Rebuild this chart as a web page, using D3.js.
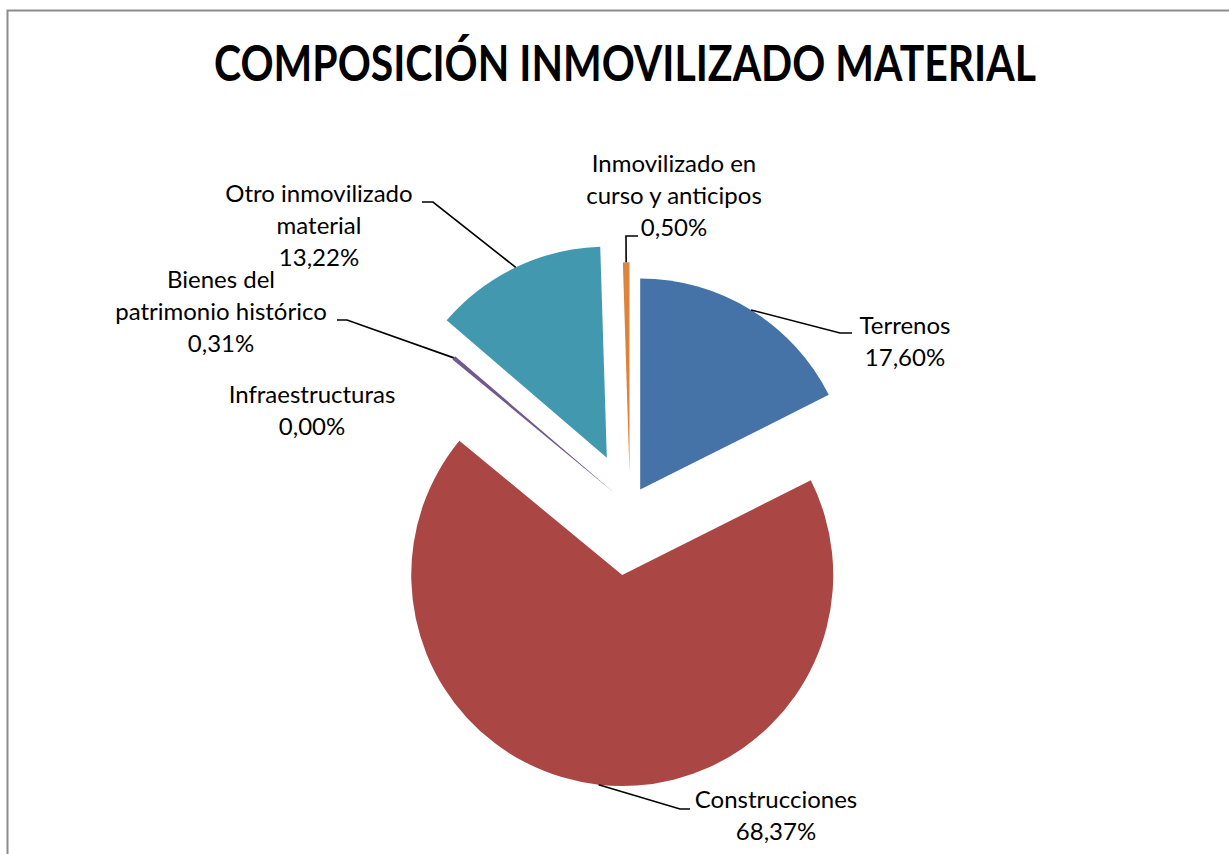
<!DOCTYPE html>
<meta charset="utf-8">
<script src="https://d3js.org/d3.v7.min.js"></script>
<style>
  body { margin: 0; background: #fff; }
  text { font-family: Lato, "Open Sans", sans-serif; fill: #000; }
</style>
<div id="chart"></div>
<script>
// data
const categories = ["Terrenos", "Construcciones", "Infraestructuras",
  "Bienes del patrimonio histórico", "Otro inmovilizado material",
  "Inmovilizado en curso y anticipos"];
const values = [17.60, 68.37, 0.00, 0.31, 13.22, 0.50];
const labelLines = [["Terrenos"], ["Construcciones"], ["Infraestructuras"],
  ["Bienes del", "patrimonio histórico"], ["Otro inmovilizado", "material"],
  ["Inmovilizado en", "curso y anticipos"]];
const title = "COMPOSICIÓN INMOVILIZADO MATERIAL";

// styles / layout
const colors = ["#4572A7", "#AA4643", "#89A54E", "#71588F", "#4198AF", "#DB843D"];
const explode = [0.092, 0.329, 0, 0.091, 0.254, 0.155]; // fraction of radius
const labelPos = [
  {x: 905, y: 334, knee: {x1: 840, x2: 852, y: 333}},
  {x: 776, y: 808, knee: {x1: 680, x2: 690, y: 809}},
  {x: 312, y: 403, knee: null},
  {x: 221, y: 288, knee: {x1: 347, x2: 337, y: 320}},
  {x: 319, y: 202, knee: {x1: 433, x2: 422, y: 202}},
  {x: 674, y: 172, knee: {x1: 626, x2: 638, y: 236}}
];

const width = 1229, height = 854;
const cx = 630, cy = 506, R = 211;
const lineH = 32;

const svg = d3.select("#chart").append("svg")
  .attr("width", width).attr("height", height);

// outer frame
svg.append("rect")
  .attr("x", 7.5).attr("y", 10.5)
  .attr("width", 1240).attr("height", 900)
  .attr("fill", "#fff").attr("stroke", "#8c8c8c").attr("stroke-width", 2);

svg.append("text")
  .attr("x", 625).attr("y", 81)
  .attr("text-anchor", "middle")
  .attr("font-weight", 700)
  .attr("font-size", 50)
  .attr("textLength", 822)
  .attr("lengthAdjust", "spacingAndGlyphs")
  .text(title);

const fmt = d3.formatLocale({decimal: ",", thousands: ".", grouping: [3], currency: ["", "€"]}).format(".2f");

const pie = d3.pie().sort(null).value(d => d.value);
const arcs = pie(categories.map((c, i) => ({name: c, value: values[i], i: i})));
const arc = d3.arc().innerRadius(0).outerRadius(R);

const g = svg.append("g").attr("transform", `translate(${cx},${cy})`);

arcs.forEach(a => {
  const i = a.data.i;
  const mid = (a.startAngle + a.endAngle) / 2;
  const off = explode[i] * R;
  a.ox = Math.sin(mid) * off;
  a.oy = -Math.cos(mid) * off;
  a.mid = mid;
});

g.selectAll("path.slice")
  .data(arcs.filter(a => a.value > 0))
  .join("path")
    .attr("class", "slice")
    .attr("d", arc)
    .attr("transform", d => `translate(${d.ox},${d.oy})`)
    .attr("fill", d => colors[d.data.i]);

// leader lines
arcs.forEach(a => {
  const p = labelPos[a.data.i];
  if (!p.knee) return;
  const sx = cx + a.ox + Math.sin(a.mid) * R;
  const sy = cy + a.oy - Math.cos(a.mid) * R;
  svg.append("path")
    .attr("d", d3.line()([[sx, sy], [p.knee.x1, p.knee.y], [p.knee.x2, p.knee.y]]))
    .attr("fill", "none")
    .attr("stroke", "#000")
    .attr("stroke-width", 1.6);
});

// labels
arcs.forEach(a => {
  const i = a.data.i;
  const p = labelPos[i];
  const lines = labelLines[i].concat([fmt(values[i]) + "%"]);
  const t = svg.append("text")
    .attr("text-anchor", "middle")
    .attr("font-size", 24);
  lines.forEach((l, k) => {
    t.append("tspan").attr("x", p.x).attr("y", p.y + k * lineH).text(l);
  });
});
</script>
